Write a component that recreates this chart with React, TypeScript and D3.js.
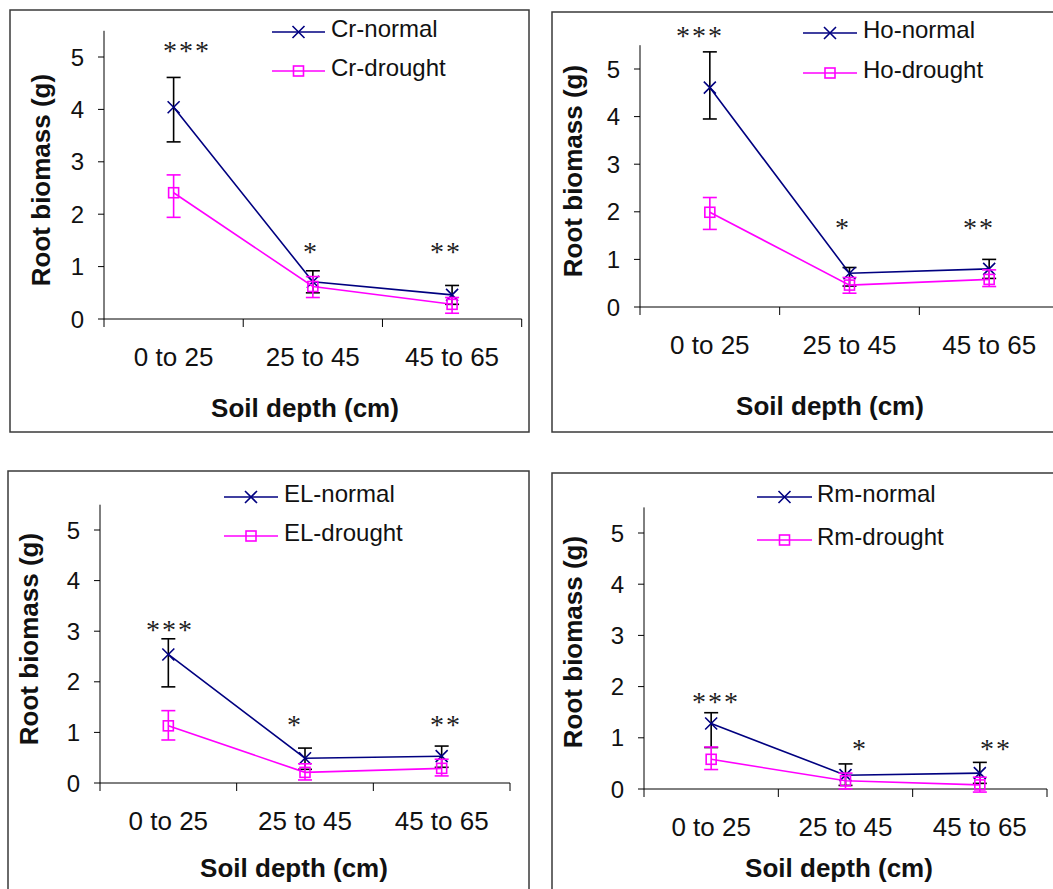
import React from "react";
import * as d3 from "d3";

// ---------- DATA ----------
const categories = ["0 to 25", "25 to 45", "45 to 65"];
const yTicks = [0, 1, 2, 3, 4, 5];
const yMax = 5.5;

const crNormal = [4.04, 0.71, 0.46];
const crNormalErrPlus = [0.57, 0.21, 0.18];
const crNormalErrMinus = [0.66, 0.21, 0.18];
const crDrought = [2.41, 0.62, 0.28];
const crDroughtErrPlus = [0.34, 0.19, 0.13];
const crDroughtErrMinus = [0.47, 0.21, 0.17];

const hoNormal = [4.61, 0.71, 0.8];
const hoNormalErrPlus = [0.75, 0.12, 0.2];
const hoNormalErrMinus = [0.66, 0.27, 0.2];
const hoDrought = [1.99, 0.46, 0.58];
const hoDroughtErrPlus = [0.31, 0.16, 0.2];
const hoDroughtErrMinus = [0.36, 0.17, 0.15];

const elNormal = [2.54, 0.49, 0.53];
const elNormalErrPlus = [0.31, 0.2, 0.2];
const elNormalErrMinus = [0.64, 0.22, 0.22];
const elDrought = [1.13, 0.21, 0.29];
const elDroughtErrPlus = [0.3, 0.17, 0.18];
const elDroughtErrMinus = [0.28, 0.15, 0.15];

const rmNormal = [1.28, 0.27, 0.31];
const rmNormalErrPlus = [0.21, 0.22, 0.21];
const rmNormalErrMinus = [0.47, 0.2, 0.2];
const rmDrought = [0.58, 0.16, 0.08];
const rmDroughtErrPlus = [0.24, 0.15, 0.15];
const rmDroughtErrMinus = [0.2, 0.16, 0.14];

const significance = ["***", "*", "**"];

const xTitle = "Soil depth (cm)";
const yTitle = "Root biomass (g)";

// ---------- LAYOUT ----------
const NAVY = "#000080";
const MAGENTA = "#FF00FF";

type Panel = {
  normalName: string;
  droughtName: string;
  normal: number[];
  normalPlus: number[];
  normalMinus: number[];
  drought: number[];
  droughtPlus: number[];
  droughtMinus: number[];
  frame: { x: number; y: number; w: number; h: number };
  ax: { x0: number; x1: number; y0: number; y5: number };
  legend: { lx0: number; lx1: number; yN: number; yD: number; tx: number };
  xTitlePos: [number, number];
  yTitlePos: [number, number];
  stars: [number, number][];
};

const panels: Panel[] = [
  {
    normalName: "Cr-normal",
    droughtName: "Cr-drought",
    normal: crNormal,
    normalPlus: crNormalErrPlus,
    normalMinus: crNormalErrMinus,
    drought: crDrought,
    droughtPlus: crDroughtErrPlus,
    droughtMinus: crDroughtErrMinus,
    frame: { x: 10, y: 10, w: 519, h: 422 },
    ax: { x0: 104, x1: 521.7, y0: 319, y5: 57 },
    legend: { lx0: 272, lx1: 325, yN: 32, yD: 71, tx: 331 },
    xTitlePos: [305, 417],
    yTitlePos: [50, 180],
    stars: [
      [187, 47],
      [311, 248],
      [446, 248],
    ],
  },
  {
    normalName: "Ho-normal",
    droughtName: "Ho-drought",
    normal: hoNormal,
    normalPlus: hoNormalErrPlus,
    normalMinus: hoNormalErrMinus,
    drought: hoDrought,
    droughtPlus: hoDroughtErrPlus,
    droughtMinus: hoDroughtErrMinus,
    frame: { x: 552, y: 12, w: 520, h: 420 },
    ax: { x0: 640, x1: 1059, y0: 307, y5: 69 },
    legend: { lx0: 803, lx1: 857, yN: 33, yD: 73, tx: 863 },
    xTitlePos: [830, 415],
    yTitlePos: [582, 171],
    stars: [
      [700, 32],
      [843, 224],
      [979, 224],
    ],
  },
  {
    normalName: "EL-normal",
    droughtName: "EL-drought",
    normal: elNormal,
    normalPlus: elNormalErrPlus,
    normalMinus: elNormalErrMinus,
    drought: elDrought,
    droughtPlus: elDroughtErrPlus,
    droughtMinus: elDroughtErrMinus,
    frame: { x: 8, y: 471, w: 521, h: 440 },
    ax: { x0: 100, x1: 510, y0: 783, y5: 530 },
    legend: { lx0: 224, lx1: 278, yN: 497, yD: 536, tx: 284 },
    xTitlePos: [294, 877],
    yTitlePos: [38, 639],
    stars: [
      [170, 626],
      [295, 721],
      [446, 721],
    ],
  },
  {
    normalName: "Rm-normal",
    droughtName: "Rm-drought",
    normal: rmNormal,
    normalPlus: rmNormalErrPlus,
    normalMinus: rmNormalErrMinus,
    drought: rmDrought,
    droughtPlus: rmDroughtErrPlus,
    droughtMinus: rmDroughtErrMinus,
    frame: { x: 552, y: 473, w: 520, h: 440 },
    ax: { x0: 644, x1: 1047, y0: 789, y5: 533 },
    legend: { lx0: 757, lx1: 812, yN: 497, yD: 540, tx: 817 },
    xTitlePos: [839, 877],
    yTitlePos: [582, 642],
    stars: [
      [716, 698],
      [860, 745],
      [996, 745],
    ],
  },
];

const FONT = "Arial, 'Liberation Sans', Helvetica, sans-serif";
const STAR_FONT = "'Times New Roman', 'Liberation Serif', serif";

function XMark({ x, y, s = 6 }: { x: number; y: number; s?: number }) {
  return (
    <path
      d={`M${x - s},${y - s}L${x + s},${y + s}M${x - s},${y + s}L${x + s},${y - s}`}
      stroke={NAVY}
      strokeWidth={1.6}
      fill="none"
    />
  );
}

function SquareMark({ x, y, s = 5 }: { x: number; y: number; s?: number }) {
  return (
    <rect
      x={x - s}
      y={y - s}
      width={2 * s}
      height={2 * s}
      stroke={MAGENTA}
      strokeWidth={1.6}
      fill="none"
    />
  );
}

function ChartPanel({ p }: { p: Panel }) {
  const { ax } = p;
  const unit = (ax.y0 - ax.y5) / 5;
  const y = d3
    .scaleLinear()
    .domain([0, yMax])
    .range([ax.y0, ax.y0 - unit * yMax]);
  const x = d3.scaleBand<string>().domain(categories).range([ax.x0, ax.x1]);
  const cx = (c: string) => (x(c) as number) + x.bandwidth() / 2;
  const line = d3
    .line<number>()
    .x((_, i) => cx(categories[i]))
    .y((v) => y(v));
  const boundaries = [ax.x0, ...categories.slice(1).map((c) => x(c) as number), ax.x1];
  const cap = 7;

  const errBars = (vals: number[], plus: number[], minus: number[], color: string) =>
    vals.map((v, i) => {
      const xx = cx(categories[i]);
      const yt = y(v + plus[i]);
      const yb = y(v - minus[i]);
      return (
        <g key={i} stroke={color} strokeWidth={1.6}>
          <line x1={xx} x2={xx} y1={yt} y2={yb} />
          <line x1={xx - cap} x2={xx + cap} y1={yt} y2={yt} />
          <line x1={xx - cap} x2={xx + cap} y1={yb} y2={yb} />
        </g>
      );
    });

  return (
    <g>
      <rect
        x={p.frame.x}
        y={p.frame.y}
        width={p.frame.w}
        height={p.frame.h}
        fill="white"
        stroke="#3a3a3a"
        strokeWidth={1.5}
      />
      {/* y axis */}
      <line x1={ax.x0} x2={ax.x0} y1={y(yMax)} y2={ax.y0} stroke="black" strokeWidth={1} />
      {yTicks.map((t) => (
        <g key={t}>
          <line x1={ax.x0 - 6} x2={ax.x0} y1={y(t)} y2={y(t)} stroke="black" strokeWidth={1} />
          <text
            x={ax.x0 - 20}
            y={y(t)}
            dy="0.36em"
            textAnchor="end"
            fontFamily={FONT}
            fontSize={24}
            fill="#111"
          >
            {t}
          </text>
        </g>
      ))}
      {/* x axis */}
      <line x1={ax.x0} x2={ax.x1} y1={ax.y0} y2={ax.y0} stroke="black" strokeWidth={1} />
      {boundaries.map((b, i) => (
        <line key={i} x1={b} x2={b} y1={ax.y0} y2={ax.y0 + 8} stroke="black" strokeWidth={1} />
      ))}
      {categories.map((c) => (
        <text
          key={c}
          x={cx(c)}
          y={ax.y0 + 47}
          textAnchor="middle"
          fontFamily={FONT}
          fontSize={26}
          fill="#111"
        >
          {c}
        </text>
      ))}
      {/* titles */}
      <text
        x={p.xTitlePos[0]}
        y={p.xTitlePos[1]}
        textAnchor="middle"
        fontFamily={FONT}
        fontWeight="bold"
        fontSize={26}
        fill="#111"
      >
        {xTitle}
      </text>
      <text
        transform={`translate(${p.yTitlePos[0]},${p.yTitlePos[1]}) rotate(-90)`}
        textAnchor="middle"
        fontFamily={FONT}
        fontWeight="bold"
        fontSize={26}
        fill="#111"
      >
        {yTitle}
      </text>
      {/* normal series */}
      <path d={line(p.normal) || ""} stroke={NAVY} strokeWidth={1.6} fill="none" />
      {errBars(p.normal, p.normalPlus, p.normalMinus, "black")}
      {p.normal.map((v, i) => (
        <XMark key={i} x={cx(categories[i])} y={y(v)} />
      ))}
      {/* drought series */}
      <path d={line(p.drought) || ""} stroke={MAGENTA} strokeWidth={1.6} fill="none" />
      {errBars(p.drought, p.droughtPlus, p.droughtMinus, MAGENTA)}
      {p.drought.map((v, i) => (
        <SquareMark key={i} x={cx(categories[i])} y={y(v)} />
      ))}
      {/* significance */}
      {significance.map((s, i) => (
        <text
          key={i}
          x={p.stars[i][0]}
          y={p.stars[i][1] + 13}
          textAnchor="middle"
          fontFamily={STAR_FONT}
          fontSize={28}
          letterSpacing={2}
          fill="#222"
        >
          {s}
        </text>
      ))}
      {/* legend */}
      <line x1={p.legend.lx0} x2={p.legend.lx1} y1={p.legend.yN} y2={p.legend.yN} stroke={NAVY} strokeWidth={1.6} />
      <XMark x={(p.legend.lx0 + p.legend.lx1) / 2} y={p.legend.yN} />
      <text x={p.legend.tx} y={p.legend.yN + 5} fontFamily={FONT} fontSize={24} fill="#111">
        {p.normalName}
      </text>
      <line x1={p.legend.lx0} x2={p.legend.lx1} y1={p.legend.yD} y2={p.legend.yD} stroke={MAGENTA} strokeWidth={1.6} />
      <SquareMark x={(p.legend.lx0 + p.legend.lx1) / 2} y={p.legend.yD} />
      <text x={p.legend.tx} y={p.legend.yD + 5} fontFamily={FONT} fontSize={24} fill="#111">
        {p.droughtName}
      </text>
    </g>
  );
}

export default function App() {
  return (
    <svg
      width={1053}
      height={889}
      style={{ position: "absolute", left: 0, top: 0, background: "white" }}
    >
      <rect x={0} y={0} width={1053} height={889} fill="white" />
      {panels.map((p, i) => (
        <ChartPanel key={i} p={p} />
      ))}
    </svg>
  );
}
